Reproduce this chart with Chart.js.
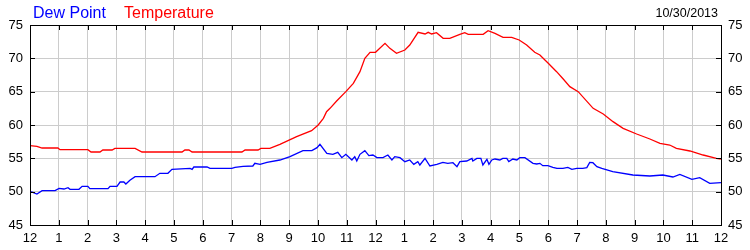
<!DOCTYPE html>
<html>
<head>
<meta charset="utf-8">
<script src="https://cdn.jsdelivr.net/npm/chart.js@4.4.1/dist/chart.umd.min.js"></script>
<style>
  body { margin: 0; background: #fff; }
  canvas { display: block; }
</style>
</head>
<body>
<canvas id="dewChart" width="750" height="250"></canvas>
<script>
// hour labels along the bottom, midnight to midnight
const hourLabels = ['12','1','2','3','4','5','6','7','8','9','10','11',
                    '12','1','2','3','4','5','6','7','8','9','10','11','12'];
const yTicks = [45, 50, 55, 60, 65, 70, 75];
const chartDate = '10/30/2013';

// temperature readings (hour of day, deg F)
const tempHours = [0, 0.24, 0.42, 0.97, 1.04, 2.01, 2.12, 2.43, 2.53, 2.85, 2.95, 3.65, 3.89,
  5.28, 5.38, 5.52, 5.63, 7.36, 7.47, 7.92, 8.02, 8.33, 8.68, 9.26, 9.78, 10.01, 10.19, 10.30,
  10.42, 10.65, 10.97, 11.23, 11.46, 11.63, 11.81, 12.00, 12.33, 12.50, 12.73, 13.02, 13.19,
  13.48, 13.72, 13.83, 13.95, 14.12, 14.35, 14.58, 14.93, 15.10, 15.22, 15.74, 15.91, 16.15,
  16.43, 16.73, 16.99, 17.25, 17.53, 17.71, 18.00, 18.29, 18.52, 18.75, 19.04, 19.56, 19.91,
  20.25, 20.60, 21.07, 21.53, 21.88, 22.22, 22.45, 22.92, 23.38, 23.84, 24.00];
const tempValues = [56.9, 56.8, 56.55, 56.55, 56.3, 56.3, 55.95, 55.95, 56.25, 56.25, 56.5, 56.5, 55.95,
  55.95, 56.25, 56.25, 55.95, 55.95, 56.25, 56.25, 56.5, 56.5, 57.1, 58.25, 59.15, 60.0, 61.0, 62.0,
  62.5, 63.6, 65.0, 66.25, 68.0, 70.0, 70.9, 70.9, 72.25, 71.5, 70.75, 71.25, 72.0,
  73.9, 73.65, 73.9, 73.65, 73.85, 73.0, 73.0, 73.6, 73.85, 73.6, 73.6, 74.15, 73.75,
  73.15, 73.15, 72.75, 72.0, 70.9, 70.5, 69.25, 68.0, 66.9, 65.75, 65.0, 62.5, 61.65,
  60.5, 59.5, 58.65, 57.9, 57.25, 57.0, 56.5, 56.1, 55.5, 55.0, 54.9];

// dew point readings (hour of day, deg F)
const dewHours = [0, 0.10, 0.24, 0.42, 0.87, 1.01, 1.18, 1.32, 1.39, 1.70, 1.81, 2.01, 2.08, 2.71,
  2.78, 3.02, 3.13, 3.26, 3.33, 3.47, 3.65, 3.99, 4.34, 4.51, 4.79, 4.93, 5.56, 5.63, 5.69, 6.15,
  6.25, 7.01, 7.12, 7.40, 7.74, 7.81, 7.99, 8.23, 8.68, 9.03, 9.48, 9.79, 9.97, 10.07, 10.31,
  10.52, 10.69, 10.83, 10.97, 11.18, 11.28, 11.35, 11.46, 11.63, 11.77, 11.91, 12.05, 12.26,
  12.43, 12.57, 12.67, 12.85, 13.02, 13.19, 13.33, 13.47, 13.54, 13.72, 13.89, 14.13, 14.34,
  14.51, 14.69, 14.83, 14.93, 15.17, 15.35, 15.38, 15.52, 15.66, 15.73, 15.87, 15.94, 16.04,
  16.15, 16.32, 16.42, 16.56, 16.63, 16.77, 16.91, 17.01, 17.19, 17.47, 17.60, 17.71, 17.81,
  17.99, 18.16, 18.30, 18.51, 18.68, 18.82, 18.99, 19.20, 19.34, 19.44, 19.55, 19.69, 19.86,
  20.24, 20.94, 21.53, 21.98, 22.33, 22.57, 22.99, 23.26, 23.61, 24.00];
const dewValues = [50.0, 49.9, 49.65, 50.15, 50.15, 50.5, 50.4, 50.6, 50.35, 50.35, 50.8, 50.8, 50.45, 50.45,
  50.8, 50.8, 51.45, 51.45, 51.15, 51.7, 52.25, 52.25, 52.25, 52.75, 52.75, 53.35, 53.5, 53.35, 53.7, 53.7,
  53.5, 53.5, 53.65, 53.8, 53.85, 54.25, 54.1, 54.4, 54.75, 55.25, 56.15, 56.15, 56.6, 57.1, 55.75,
  55.6, 55.9, 55.1, 55.6, 54.75, 55.25, 54.6, 55.6, 56.15, 55.4, 55.5, 55.1, 55.1,
  55.5, 54.75, 55.25, 55.1, 54.5, 54.75, 54.1, 54.5, 54.0, 55.0, 53.85, 54.1, 54.4,
  54.25, 54.35, 53.75, 54.5, 54.6, 55.0, 54.6, 55.0, 55.0, 54.0, 54.85, 54.1, 54.75,
  54.9, 54.75, 55.0, 55.0, 54.5, 54.9, 54.75, 55.1, 55.1, 54.25, 54.15, 54.25, 53.9,
  53.9, 53.65, 53.5, 53.5, 53.65, 53.35, 53.5, 53.5, 53.6, 54.4, 54.35, 53.75, 53.5,
  53.0, 52.5, 52.35, 52.5, 52.2, 52.6, 51.85, 52.1, 51.25, 51.35];

function toPoints(xs, ys) {
    return xs.map((h, i) => ({ x: h, y: ys[i] }));
}

const FONT = '"Liberation Sans", Arial, sans-serif';

// header text + tick marks pointing into the plot + black frame
const framePlugin = {
    id: 'frame',
    afterDraw(chart) {
        const ctx = chart.ctx;
        const a = chart.chartArea;
        const xs = chart.scales.x, ys = chart.scales.y;
        ctx.save();
        ctx.strokeStyle = '#000';
        ctx.lineWidth = 1;
        ctx.beginPath();
        xs.ticks.forEach(t => {
            const px = Math.round(xs.getPixelForValue(t.value)) + 0.5;
            ctx.moveTo(px, a.top); ctx.lineTo(px, a.top + 5);
            ctx.moveTo(px, a.bottom); ctx.lineTo(px, a.bottom - 5);
        });
        ys.ticks.forEach(t => {
            const py = Math.round(ys.getPixelForValue(t.value)) + 0.5;
            ctx.moveTo(a.left, py); ctx.lineTo(a.left + 5, py);
            ctx.moveTo(a.right, py); ctx.lineTo(a.right - 5, py);
        });
        ctx.stroke();
        ctx.strokeRect(Math.round(a.left) + 0.5, Math.round(a.top) + 0.5,
                       Math.round(a.right - a.left), Math.round(a.bottom - a.top));

        ctx.textBaseline = 'alphabetic';
        ctx.font = '16px ' + FONT;
        ctx.fillStyle = '#0000ff';
        ctx.fillText(chart.data.datasets[0].label, 33, 18);
        ctx.fillStyle = '#ff0000';
        ctx.fillText(chart.data.datasets[1].label, 124, 18);
        ctx.font = '12.5px ' + FONT;
        ctx.fillStyle = '#000';
        ctx.textAlign = 'right';
        ctx.fillText(chartDate, 718, 17);
        ctx.restore();
    }
};

const yRange = {
    type: 'linear',
    min: yTicks[0],
    max: yTicks[yTicks.length - 1],
    afterBuildTicks: s => { s.ticks = yTicks.map(v => ({ value: v })); },
    ticks: { color: '#000', padding: 7, font: { size: 13, family: FONT } },
    border: { display: false }
};

new Chart(document.getElementById('dewChart'), {
    type: 'line',
    data: {
        datasets: [{
            label: 'Dew Point',
            data: toPoints(dewHours, dewValues),
            borderColor: '#0000ff',
            borderWidth: 1.3,
            pointRadius: 0,
            yAxisID: 'y'
        }, {
            label: 'Temperature',
            data: toPoints(tempHours, tempValues),
            borderColor: '#ff0000',
            borderWidth: 1.3,
            pointRadius: 0,
            yAxisID: 'y'
        }]
    },
    options: {
        responsive: false,
        animation: false,
        layout: { padding: { top: 25, left: 0, right: 0, bottom: 0 } },
        plugins: { legend: { display: false }, tooltip: { enabled: false } },
        scales: {
            x: {
                type: 'linear',
                min: 0,
                max: 24,
                afterBuildTicks: s => { s.ticks = hourLabels.map((l, i) => ({ value: i })); },
                afterFit: s => { s.height = 25; },
                ticks: {
                    color: '#000', padding: 6, maxRotation: 0, autoSkip: false,
                    font: { size: 13, family: FONT },
                    callback: v => hourLabels[v]
                },
                grid: { color: '#cccccc', drawTicks: false },
                border: { display: false }
            },
            y: Object.assign({}, yRange, {
                position: 'left',
                afterFit: s => { s.width = 30; },
                grid: { color: '#cccccc', drawTicks: false }
            }),
            y2: Object.assign({}, yRange, {
                position: 'right',
                afterFit: s => { s.width = 29; },
                grid: { display: false, drawTicks: false }
            })
        }
    },
    plugins: [framePlugin]
});
</script>
</body>
</html>
